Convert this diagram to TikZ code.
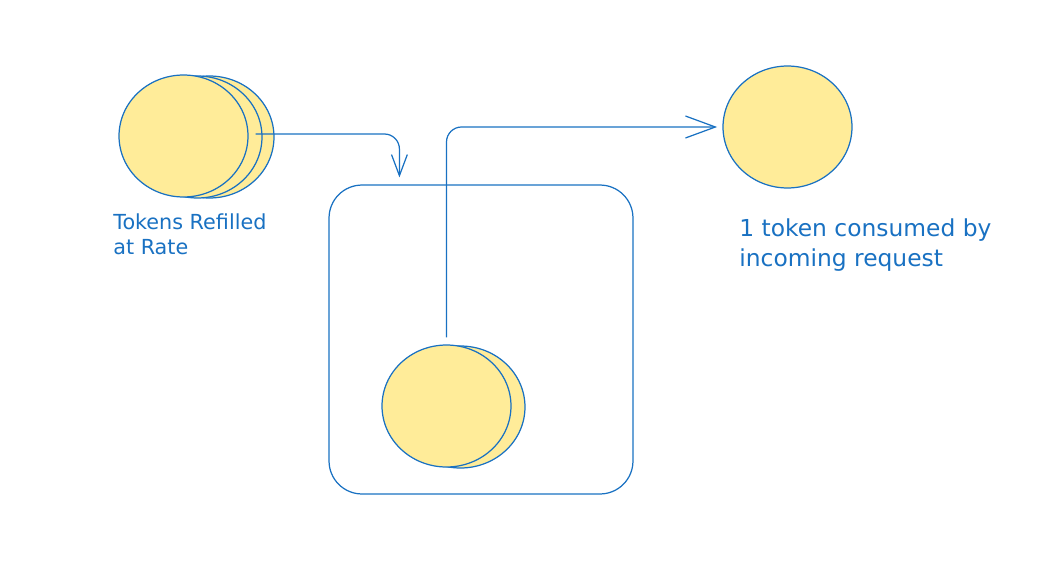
\documentclass[tikz,border=0pt]{standalone}
\usepackage{fontspec}
\setmainfont{DejaVu Sans}
\usetikzlibrary{calc,shapes.geometric,arrows.meta}
\definecolor{inkblue}{HTML}{1971C2}
\definecolor{coinfill}{HTML}{FFEC99}

\begin{document}
\begin{tikzpicture}[x=0.02cm, y=-0.02cm,
		coin/.style={ellipse, draw=inkblue, fill=coinfill, line width=0.7pt, minimum width=2.58cm, minimum height=2.44cm, inner sep=0pt},
		bucketbox/.style={draw=inkblue, line width=0.7pt, rounded corners=0.66cm, minimum width=6.08cm, minimum height=6.18cm, inner sep=0pt},
		flow/.style={draw=inkblue, line width=0.7pt, rounded corners=0.3cm},
		note/.style={text=inkblue, align=left, inner sep=0pt}]
		%%%%% START %%%%%
		
		\useasboundingbox (0, 0) rectangle (1058, 565);
		
		\node[coin] (refillC) at (209.5, 137) {};
		\node[coin] (refillB) at (197.5, 137) {};
		\node[coin] (refillA) at (183.5, 136) {};
		
		\node[bucketbox] (bucket) at (481, 339.5) {};
		
		\node[coin] (keptB) at (460.5, 407) {};
		\node[coin] (keptA) at (446.5, 406) {};
		
		\node[coin] (spent) at (787.5, 127) {};
		
		\coordinate (refill) at ($(refillB.east)+(-7, -3)$);
		\coordinate (drop) at ($(bucket.north west)+(71, -7)$);
		\draw[flow, -{Straight Barb[length=12pt, width=9pt, line width=0.7pt]}] (refill) -| (drop);
		\draw[flow, -{Straight Barb[length=17pt, width=12.5pt, line width=0.7pt]}, shorten <=4pt, shorten >=3pt] (keptA.north) |- (spent.west);
		
		\node[note, anchor=north west, font=\fontsize{11.8pt}{14.2pt}\selectfont] (refillText) at (113, 213) {Tokens Refilled\\at Rate};
		\node[note, anchor=north west, font=\fontsize{13.3pt}{17.3pt}\selectfont] (spentText) at (739, 218) {1 token consumed by\\incoming request};
		
		%%%%% END %%%%%
	\end{tikzpicture}
\end{document}
